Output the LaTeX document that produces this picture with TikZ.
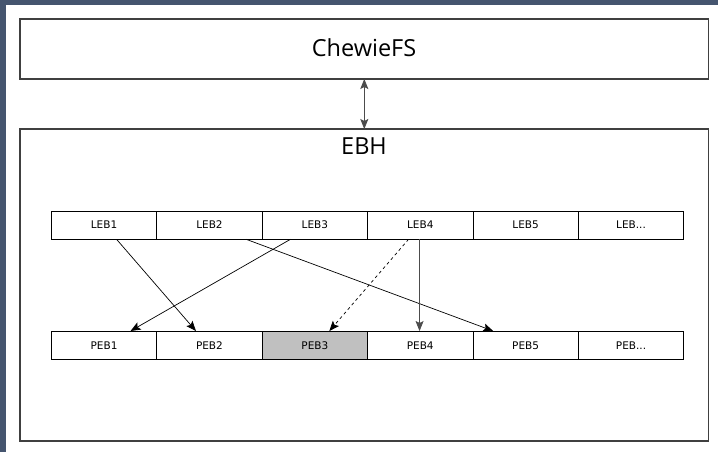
\documentclass[tikz,border=0pt]{standalone}
\usepackage{fontspec}
\setmainfont{DejaVu Sans}
\newfontfamily\titlefont{Open Sans}
\usetikzlibrary{arrows.meta}
\definecolor{frame}{HTML}{45556F}
\definecolor{cellgray}{HTML}{C0C0C0}
\tikzset{
  bigbox/.style={draw=black!75, line width=1.3pt, inner sep=0pt},
  cell/.style={draw=black, line width=0.8pt, minimum width=105.3pt, minimum height=27.8pt, inner sep=0pt, font=\fontsize{10.5}{12}\selectfont},
  title/.style={font=\titlefont\fontsize{23.5}{27}\selectfont, inner sep=0pt},
  tip/.style={Stealth[length=10pt,width=8pt,inset=2pt]},
  link/.style={draw=black, line width=0.7pt, -{Stealth[length=10pt,width=8pt,inset=2pt]}},
}
\begin{document}
\begin{tikzpicture}[x=1pt,y=-1pt]
\useasboundingbox (0,0) rectangle (718,452);
\fill[white] (0,0) rectangle (718,452);
\fill[frame] (0,0) rectangle (718,5);
\fill[frame] (0,0) rectangle (6,452);
% top box
\draw[bigbox] (20,19) rectangle (708.5,79);
\node[title] (chewie) at (364,48) {ChewieFS};
\coordinate (ctop) at (364.3,79);
% EBH box
\draw[bigbox] (20,129) rectangle (708.5,441);
\node[title] (ebh) at (364,146) {EBH};
\coordinate (etop) at (364.3,129);
\draw[black!70, line width=0.8pt, {Stealth[length=10pt,width=8pt,inset=2pt]}-{Stealth[length=10pt,width=8pt,inset=2pt]}] (ctop) -- (etop);
% LEB row
\foreach \i/\t in {0/LEB1,1/LEB2,2/LEB3,3/LEB4,4/LEB5}{
  \node[cell, anchor=north west] (l\i) at ({51+105.4*\i},210.7) {\t};
}
\node[cell, anchor=north west] (l5) at ({51+105.4*5},210.7) {LEB...};
% PEB row
\foreach \i/\t in {0/PEB1,1/PEB2,3/PEB4,4/PEB5}{
  \node[cell, anchor=north west] (p\i) at ({51+105.4*\i},331) {\t};
}
\node[cell, anchor=north west] (p5) at ({51+105.4*5},331) {PEB...};
\node[cell, anchor=north west, fill=cellgray] (p2) at ({51+105.4*2},331) {PEB3};
% arrows
\draw[link] ([xshift=12.5pt]l0.south) -- ([xshift=-13.5pt]p1.north);
\draw[link] ([xshift=36.7pt]l1.south) -- ([xshift=-32.5pt]p4.north);
\draw[link] ([xshift=-24.4pt]l2.south) -- ([xshift=26.5pt]p0.north);
\draw[link, dashed] ([xshift=-11.7pt]l3.south) -- ([xshift=14.5pt]p2.north);
\draw[link, draw=black!70] ([xshift=-0.7pt]l3.south) -- ([xshift=-0.7pt]p3.north);
\end{tikzpicture}
\end{document}
